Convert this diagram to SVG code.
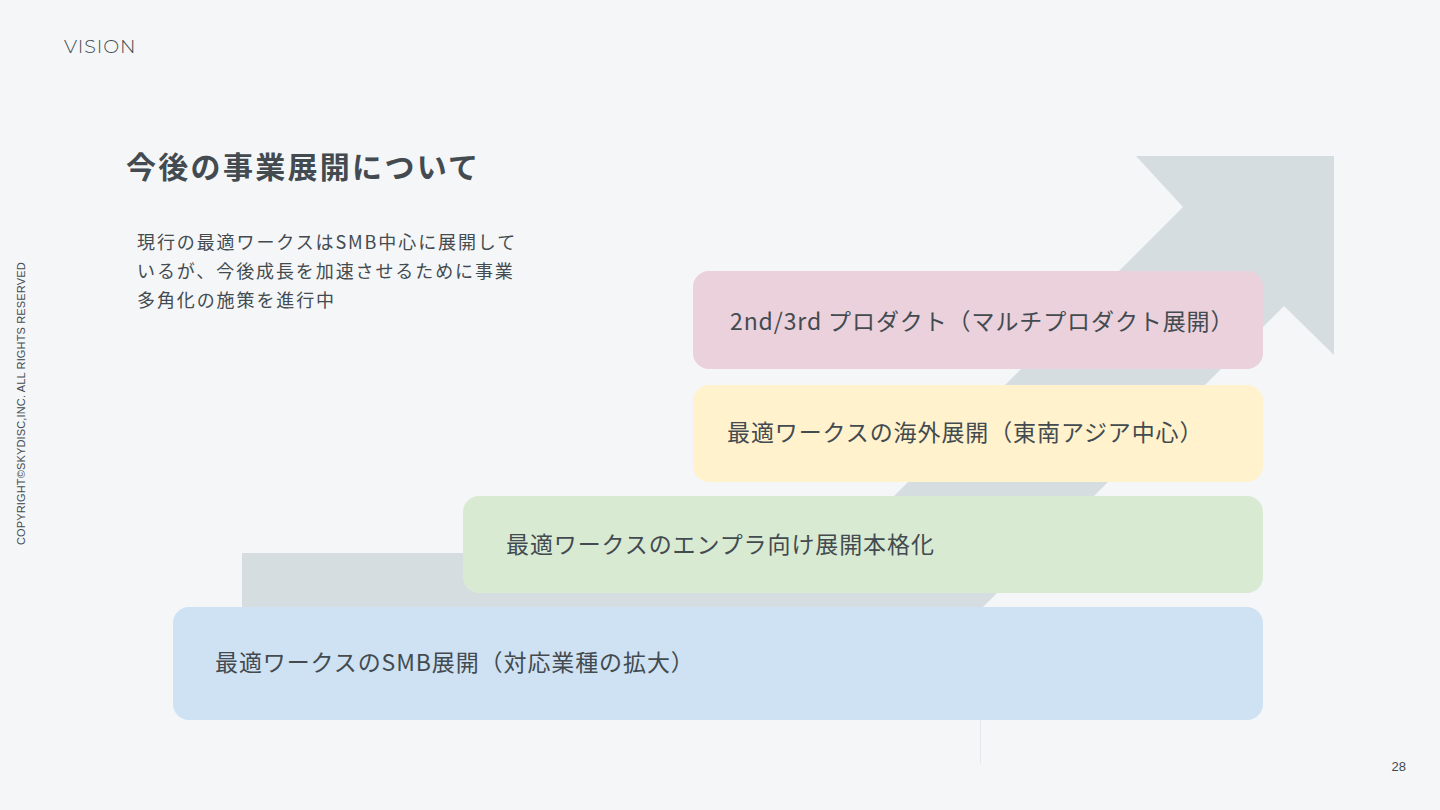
<svg xmlns="http://www.w3.org/2000/svg" width="1440" height="810" viewBox="0 0 1440 810">
  <style>
    .jp { font-family: "Noto Sans CJK JP", "Noto Sans", sans-serif; fill: #434b50; }
    .step { font-size: 23px; letter-spacing: 0.9px; }
    .body { font-size: 18px; letter-spacing: 1.9px; }
  </style>
  <rect x="0" y="0" width="1440" height="810" fill="#f4f6f8"/>

  <g id="header">
    <text x="64" y="53" font-family="Montserrat, 'Noto Sans', sans-serif" font-size="19" font-weight="300" letter-spacing="0.9" fill="#434b50">VISION</text>
    <text x="1406" y="771" text-anchor="end" font-family="'Liberation Sans', Arial, sans-serif" font-size="13" fill="#434b50">28</text>
    <text transform="translate(25,545) rotate(-90)" font-family="'Liberation Sans', Arial, sans-serif" font-size="11" letter-spacing="0.15" fill="#434b50">COPYRIGHT©SKYDISC,INC. ALL RIGHTS RESERVED</text>
  </g>

  <g id="title">
    <text class="jp" x="126" y="178" font-size="30" font-weight="700" letter-spacing="2.3">今後の事業展開について</text>
  </g>

  <g id="description">
    <text class="jp body" x="137" y="249">現行の最適ワークスはSMB中心に展開して</text>
    <text class="jp body" x="137" y="278">いるが、今後成長を加速させるために事業</text>
    <text class="jp body" x="137" y="307">多角化の施策を進行中</text>
  </g>

  <g id="arrow">
    <polygon points="242,553 837,553 1183,207 1136,156 1334,156 1334,355 1284,306 983,607 890,700 242,700" fill="#d5dde0"/>
    <line x1="980.5" y1="720" x2="980.5" y2="764" stroke="#e6e9ec" stroke-width="1"/>
  </g>

  <g id="step-smb">
    <rect x="173" y="607" width="1090" height="113" rx="16" fill="#cfe2f3"/>
    <text class="jp step" x="215" y="671">最適ワークスのSMB展開（対応業種の拡大）</text>
  </g>

  <g id="step-enterprise">
    <rect x="463" y="496" width="800" height="97" rx="16" fill="#d9ead3"/>
    <text class="jp step" x="506" y="553">最適ワークスのエンプラ向け展開本格化</text>
  </g>

  <g id="step-overseas">
    <rect x="693" y="385" width="570" height="97" rx="16" fill="#fff2cc"/>
    <text class="jp step" x="727" y="441">最適ワークスの海外展開（東南アジア中心）</text>
  </g>

  <g id="step-multiproduct">
    <rect x="693" y="271" width="570" height="98" rx="16" fill="#ead1dc"/>
    <text class="jp step" x="730" y="330">2nd/3rd プロダクト（マルチプロダクト展開）</text>
  </g>

  <g id="connectors"></g>
</svg>
